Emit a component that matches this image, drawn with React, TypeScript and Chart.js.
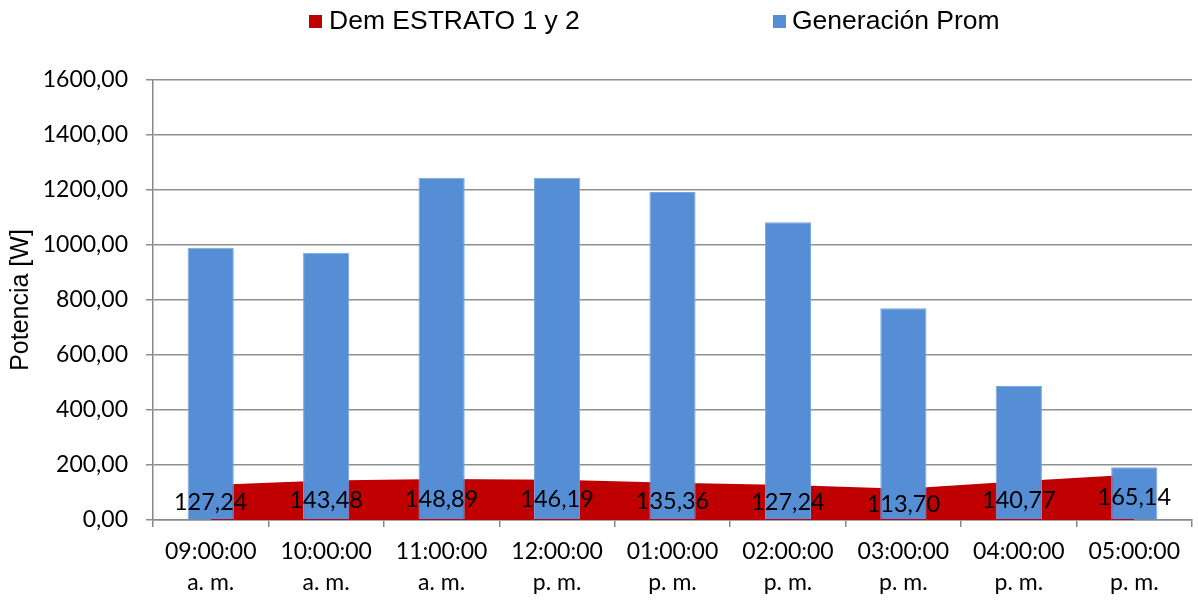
import React, { useEffect, useRef } from "react";
import { Chart, registerables } from "chart.js";

Chart.register(...registerables);

const categories: string[][] = [
  ["09:00:00", "a. m."],
  ["10:00:00", "a. m."],
  ["11:00:00", "a. m."],
  ["12:00:00", "p. m."],
  ["01:00:00", "p. m."],
  ["02:00:00", "p. m."],
  ["03:00:00", "p. m."],
  ["04:00:00", "p. m."],
  ["05:00:00", "p. m."],
];
const demanda: number[] = [127.24, 143.48, 148.89, 146.19, 135.36, 127.24, 113.7, 140.77, 165.14];
const generacion: number[] = [990, 972, 1245, 1245, 1193, 1083, 770, 487, 192];
const seriesNames: string[] = ["Dem ESTRATO 1 y 2", "Generación Prom"];
const seriesColors: string[] = ["#C00000", "#558ED5"];
const yTitle = "Potencia [W]";

const fmt = (v: number) => v.toFixed(2).replace(".", ",");

const labelFont = "Lato";

const dataLabelPlugin = {
  id: "areaLabels",
  afterDatasetsDraw(chart: any) {
    const ctx = chart.ctx;
    const meta = chart.getDatasetMeta(0);
    const yScale = chart.scales.y;
    ctx.save();
    ctx.font = `23.5px ${labelFont}`;
    ctx.fillStyle = "#000";
    ctx.textAlign = "center";
    ctx.textBaseline = "middle";
    meta.data.forEach((pt: any, i: number) => {
      const v = demanda[i];
      const y = yScale.getPixelForValue(v / 2);
      ctx.fillText(fmt(v), pt.x, y);
    });
    ctx.restore();
  },
};

const legendPlugin = {
  id: "customLegend",
  afterDraw(chart: any) {
    const ctx = chart.ctx;
    ctx.save();
    ctx.font = "26.5px 'Liberation Sans', Arial, sans-serif";
    ctx.textBaseline = "middle";
    ctx.textAlign = "left";
    const items = [
      { x: 309, tx: 329 },
      { x: 773, tx: 792 },
    ];
    items.forEach((it, i) => {
      ctx.fillStyle = seriesColors[i];
      ctx.fillRect(it.x, 15, 13, 13);
      ctx.fillStyle = "#000";
      ctx.fillText(seriesNames[i], it.tx, 21.5);
    });
    ctx.restore();
  },
};

export default function App() {
  const ref = useRef<HTMLCanvasElement | null>(null);
  useEffect(() => {
    if (!ref.current) return;
    const chart = new Chart(ref.current, {
      type: "bar",
      data: {
        labels: categories,
        datasets: [
          {
            type: "line",
            label: seriesNames[0],
            data: demanda,
            borderColor: seriesColors[0],
            backgroundColor: seriesColors[0],
            borderWidth: 0,
            pointRadius: 0,
            fill: "origin",
            tension: 0,
            order: 2,
          } as any,
          {
            type: "bar",
            label: seriesNames[1],
            data: generacion,
            backgroundColor: seriesColors[1],
            borderColor: "#7aa6e0",
            borderWidth: 1,
            categoryPercentage: 0.8,
            barPercentage: 0.5,
            order: 1,
          },
        ],
      },
      options: {
        responsive: false,
        animation: false,
        layout: { padding: { top: 80, right: 6, left: 0, bottom: 0 } },
        plugins: {
          legend: { display: false },
          tooltip: { enabled: false },
        },
        scales: {
          x: {
            offset: true,
            afterFit: (s: any) => {
              s.height = 83;
            },
            border: { display: true, color: "#878787", width: 1.5 },
            grid: {
              offset: true,
              drawOnChartArea: false,
              drawTicks: true,
              tickLength: 7,
              color: "#878787",
              lineWidth: 1.5,
            },
            ticks: {
              color: "#000",
              font: { family: labelFont, size: 23, lineHeight: 1.35 },
              padding: 9,
              maxRotation: 0,
              autoSkip: false,
            },
          },
          y: {
            min: 0,
            max: 1600,
            afterFit: (s: any) => {
              s.width = 153;
            },
            border: { display: true, color: "#878787", width: 1.5 },
            grid: {
              color: "#8f8f8f",
              lineWidth: 1.5,
              drawTicks: true,
              tickLength: 7,
            },
            ticks: {
              stepSize: 200,
              color: "#000",
              font: { family: labelFont, size: 23 },
              padding: 18,
              callback: (v: any) => fmt(Number(v)),
            },
            title: {
              display: true,
              text: yTitle,
              color: "#000",
              font: { family: "'Liberation Sans', Arial, sans-serif", size: 25, lineHeight: 1.2 },
              padding: { top: 6, bottom: 0 },
            },
          },
        },
      },
      plugins: [dataLabelPlugin, legendPlugin],
    });
    return () => chart.destroy();
  }, []);
  return (
    <div style={{ position: "fixed", left: 0, top: 0, width: 1198, height: 603, background: "#fff" }}>
      <canvas ref={ref} width={1198} height={603} />
    </div>
  );
}
